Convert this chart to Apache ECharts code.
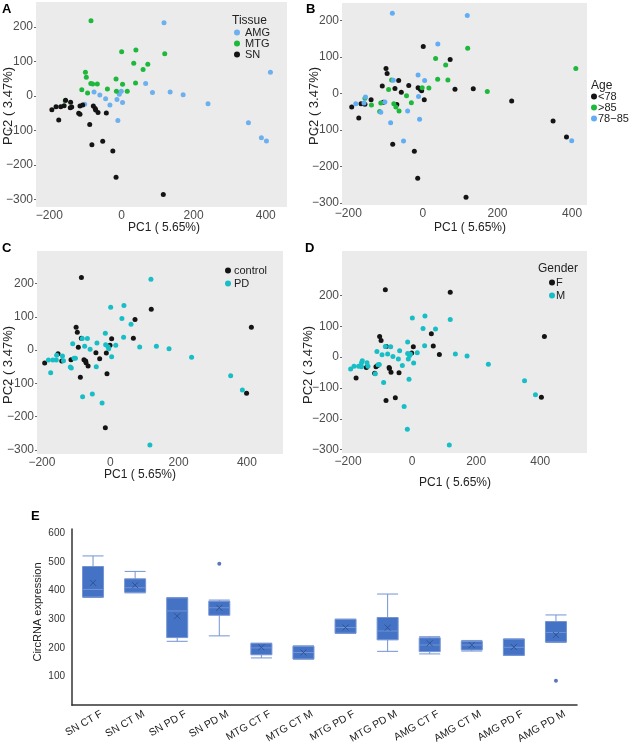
<!DOCTYPE html>
<html><head><meta charset="utf-8">
<script src="https://cdn.jsdelivr.net/npm/echarts@6/dist/echarts.min.js"></script>
<style>html,body{margin:0;padding:0;background:#fff}#c{width:630px;height:746px}</style>
</head><body><div id="c"></div>
<script>
// ---------- Panel A: PCA by tissue ----------
const tissueAMG = [[118,212],[413,69],[67,36],[-76,12],[-60,3],[-44,-8],[-32,-26],[-12.5,-10],[-6,5],[-0.5,14],[3,-19],[86,10],[135,12],[171,4],[240,-22],[352,-77],[388,-121],[402,-130],[-102,-24],[-10,-71]];
const tissueMTG = [[-84.5,218],[0.5,128],[40,133],[120,122],[34,95],[73,92],[60,77],[-100,69],[-97.5,54],[-85,36],[-80,35],[-67,35],[-15,49],[3,34],[39,38],[-39,20],[-110,18],[-94,9],[-14,14],[16,14],[-156,-14]];
const tissueSN = [[-193,-40],[-181.5,-31],[-168.5,-31],[-159,-28],[-155,-12],[-174,-69],[-141,-18],[-142,-34],[-138,-32],[-115,-29],[-107.5,-26],[-118.6,-50],[-115,-53],[-78,-29],[-73,-36],[-71.5,-40.5],[-65,-48],[-42,-49],[-88,-82],[-52,-131],[-82,-141],[-24,-159],[-15,-235],[116,-285]];
// ---------- Panel B: PCA by age ----------
const ageUnder78 = [[0.9,128.6],[73,93],[-99,69],[-96,55],[-65,36],[-109,21],[-75,14],[-38,22],[-58,4],[-13,16],[-7,12],[-3.4,8],[3.6,-17],[86,12],[135,13],[-139,-17],[-191,-37],[-166,-28],[-155.5,-29],[-106,-24],[-70,-30],[-172,-67],[-81,-139],[-23,-158],[-14,-232],[115.6,-284],[238,-20],[349,-75],[385,-119]];
const ageOver85 = [[120,124],[34,96],[61,78],[-84,37.5],[39.5,39],[67,37],[16,15.5],[-2,16],[-92,11],[-44,-6],[-31,-25],[-155.5,-13],[-138,-31],[-113,-26],[-78,-27.5],[-72.5,-36.5],[-64,-47.5],[-116,-49],[172.6,5.4],[410,69]];
const age78to85 = [[40,136],[-13,51],[4.6,36],[-79.6,36.5],[-11.7,-8],[-154,-9],[-180,-28],[-158,-26],[-102,-23],[-113,-51],[-41,-47.5],[-9,-70],[-86.6,-80],[-52,-129.5],[-82,220],[119,213.5],[399,-129]];
// ---------- Panel C: PCA by status ----------
const statusControl = [[120,123],[72.4,92],[-100,69],[-96.5,54],[-84.7,36],[4,34],[67.6,36],[-0.8,15],[-93.5,9],[-42,-7.5],[-11.6,-8.4],[-31,-25.5],[-153,-10.5],[-192,-38.5],[-142,-32.5],[-115,-28.5],[-77,-28.5],[-72,-32.5],[-71,-37.5],[-65,-47.5],[-9.6,-70.6],[-87.6,-81.5],[-14.5,-233],[413,69],[399,-129.5],[-84.5,218]];
const statusPD = [[1.2,129],[40,134],[34,95],[60.7,78],[-14.5,51],[39,39],[-82,35],[-67,35],[-110,19.5],[-39,21.6],[-75,11.6],[-59,2.6],[-13.5,16.5],[-6.6,10.5],[-4.6,4.5],[16,14.6],[4,-19.5],[86,9.6],[135,11.6],[172,4.5],[-157,-15.5],[-181,-29.5],[-168,-29.5],[-158,-29.5],[-140,-17.5],[-137,-31.5],[-106,-24.5],[-102,-24.5],[-117,-50.5],[-114,-53.5],[-41,-49.5],[-174.5,-67.6],[-81,-140],[-52.5,-132],[-24,-159],[119,213],[238,-21],[352.4,-76.6],[386.7,-119.6],[116,-285]];
// ---------- Panel D: PCA by gender ----------
const genderF = [[-101.5,67],[-97,54],[-80.6,34.5],[3.7,33.5],[-1.5,13],[60,75.5],[66,35.7],[85,8.5],[-113,-31],[-108,-27],[-143,-33.5],[-175,-68],[-117,-52],[-72,-33.5],[-71,-37],[-66,-49.5],[-41,-50.7],[-52.5,-131.7],[-81.6,-141],[-83.7,218],[119,210.5],[413,67],[403.6,-130.6]];
const genderM = [[0.6,127],[40,133],[119,122],[34,93],[73,90.7],[-14,48.6],[39,36.7],[-83.7,34.5],[-67,33.5],[-110,18],[-39,20.5],[-94,7.5],[-76.5,9.8],[-60,2],[-43,-6.5],[-30.6,-27],[-14,11.8],[-7.8,5.3],[-5.6,9.8],[4.7,-19.5],[16,14],[-12,-6.5],[135,9.8],[171.5,3.2],[-155.6,-12],[-158,-18],[-192,-39],[-181.5,-30],[-167,-30],[-158,-31],[-141,-18],[-138,-30],[-106.5,-25],[-102.5,-24],[-115,-54],[-89,-82],[-9.7,-72],[-25,-160],[-15,-234],[116,-285],[238,-23],[351,-77],[385,-122]];
// ---------- Panel E: box plot ----------
const boxCats = ['SN CT F','SN CT M','SN PD F','SN PD M','MTG CT F','MTG CT M','MTG PD F','MTG PD M','AMG CT F','AMG CT M','AMG PD F','AMG PD M'];
const boxMin  = [376,392,223,242,165,161,251,188,179,189,174,219];
const boxQ1   = [378,394,236,314,176,161,251,228,187,193,174,221];
const boxMed  = [404,410,329,340,200,184,271,259,210,210,202,254];
const boxQ3   = [484,441,375,363,216,206,300,306,235,223,231,292];
const boxMax  = [521,467,375,367,216,207,300,388,239,226,231,315];
const boxMean = [427,419,311,340,202,184,271,271,216,210,203,245];
const outlierCats = ['SN PD M','AMG PD M'];
const outlierVals = [494,85];
const pcTicksX = [-200,0,200,400];
const pcTicksY = [-300,-200,-100,0,100,200];
const boxTicksY = [100,200,300,400,500,600];

const FONT = '"Liberation Sans", Arial, sans-serif';
const minus = v => v < 0 ? '\u2212' + Math.abs(v) : String(v);
const C_BLACK = '#141414', C_GREEN = '#1DB83C', C_BLUE = '#6DB0EE', C_CYAN = '#17BEC6';

const chart = echarts.init(document.getElementById('c'), null, {renderer:'canvas'});

const grids = [
  {left:36, top:2, width:251, height:205},
  {left:342, top:3, width:245, height:202},
  {left:37, top:251, width:246, height:203},
  {left:342, top:251, width:245, height:202},
  {left:72, top:529, width:505, height:179}
].map(g => Object.assign({show: true, backgroundColor:'#EBEBEB', borderWidth:0}, g));
grids[4].backgroundColor = 'transparent';

const ranges = [
  {x:[-237,459], y:[-321,272]},
  {x:[-217,440], y:[-305,248]},
  {x:[-214.5,505.6], y:[-312,298]},
  {x:[-219,546], y:[-311,344]}
];

const xAxes = [], yAxes = [];
ranges.forEach((r,i) => {
  xAxes.push({gridIndex:i, type:'value', min:r.x[0], max:r.x[1], position:'bottom',
    axisLine:{show:false, onZero:false},
    axisTick:{show:false},
    axisLabel:{customValues:pcTicksX, formatter:minus, color:'#4D4D4D', fontSize:12, fontFamily:FONT, margin:3},
    splitLine:{show:false}});
  yAxes.push({gridIndex:i, type:'value', min:r.y[0], max:r.y[1], position:'left',
    axisLine:{show:false, onZero:false},
    axisTick:{show:true, length:2, lineStyle:{color:'#666'}, customValues:pcTicksY},
    axisLabel:{customValues:pcTicksY, formatter:minus, color:'#4D4D4D', fontSize:12, fontFamily:FONT, margin:3},
    splitLine:{show:false}});
});
xAxes.push({gridIndex:4, type:'category', data:boxCats, boundaryGap:true,
  axisLine:{show:true, onZero:false, lineStyle:{color:'#333', width:1.5}},
  axisTick:{show:false},
  axisLabel:{rotate:30, fontSize:10.5, color:'#1a1a1a', fontFamily:FONT, margin:13, interval:0, padding:[0,-10,0,0]}});
yAxes.push({gridIndex:4, type:'value', min:0, max:615,
  axisLine:{show:true, onZero:false, lineStyle:{color:'#333', width:1.5}},
  axisTick:{show:false},
  axisLabel:{customValues:boxTicksY, fontSize:10, color:'#333', fontFamily:FONT, margin:7},
  splitLine:{show:false}});

const sc = (name, data, idx, color) => ({type:'scatter', name, data, xAxisIndex:idx, yAxisIndex:idx,
  symbolSize:5, itemStyle:{color, opacity:1}, silent:true});

const series = [
  sc('AMG', tissueAMG, 0, C_BLUE),
  sc('MTG', tissueMTG, 0, C_GREEN),
  sc('SN', tissueSN, 0, C_BLACK),
  sc('<78', ageUnder78, 1, C_BLACK),
  sc('>85', ageOver85, 1, C_GREEN),
  sc('78\u221285', age78to85, 1, '#62AEF4'),
  sc('control', statusControl, 2, C_BLACK),
  sc('PD', statusPD, 2, C_CYAN),
  sc('F', genderF, 3, C_BLACK),
  sc('M', genderM, 3, C_CYAN),
  {type:'boxplot', xAxisIndex:4, yAxisIndex:4, boxWidth:[21,21],
    data: boxCats.map((c,i)=>[boxMin[i],boxQ1[i],boxMed[i],boxQ3[i],boxMax[i]]),
    itemStyle:{color:'#4472C4', borderColor:'#7393D3', borderWidth:1}, silent:true},
  {type:'scatter', xAxisIndex:4, yAxisIndex:4, symbol:'path://M0,0L10,10M10,0L0,10', symbolSize:6,
    data: boxCats.map((c,i)=>[i, boxMean[i]]),
    itemStyle:{color:'none', borderColor:'#2B4C8C', borderWidth:1}, silent:true},
  {type:'scatter', xAxisIndex:4, yAxisIndex:4, symbolSize:4,
    data: outlierCats.map((c,i)=>[boxCats.indexOf(c), outlierVals[i]]),
    itemStyle:{color:'#2F55A8'}, silent:true}
];

const legBase = {orient:'vertical', icon:'circle', itemWidth:6, itemHeight:6, itemGap:0, selectedMode:false, padding:0};
const ts = (pl) => ({fontSize:11, color:'#222', fontFamily:FONT, padding:[0,0,0,pl]});
const legends = [
  Object.assign({}, legBase, {left:234, top:27, textStyle:ts(0), data:['AMG','MTG','SN']}),
  Object.assign({}, legBase, {left:591, top:91, textStyle:ts(-4), data:['<78','>85','78\u221285']}),
  Object.assign({}, legBase, {left:225, top:265, itemGap:2, textStyle:ts(-2), data:['control','PD']}),
  Object.assign({}, legBase, {left:549, top:277, itemGap:2, textStyle:ts(-4), data:['F','M']})
];

const txt = (x,y,text,opt) => ({type:'text', x, y, silent:true,
  style:Object.assign({text, fill:'#222', font:'12px '+FONT, textAlign:'center', textVerticalAlign:'middle'}, opt||{})});
const rtxt = (x,y,text,size) => ({type:'text', x, y, rotation:Math.PI/2, silent:true,
  style:{text, fill:'#222', font:(size||12)+'px '+FONT, textAlign:'center', textVerticalAlign:'middle'}});
const bold = (x,y,t) => txt(x,y,t,{font:'bold 13px '+FONT, fill:'#000', textAlign:'left'});

const graphic = [
  bold(2,9,'A'), bold(306,9,'B'), bold(2,248,'C'), bold(305,248,'D'), bold(31,516,'E'),
  txt(164,228,'PC1 ( 5.65%)'), txt(470,228,'PC1 ( 5.65%)'), txt(140,475,'PC1 ( 5.65%)'), txt(455,483,'PC1 ( 5.65%)'),
  rtxt(8,106,'PC2 ( 3.47%)',13), rtxt(314,106,'PC2 ( 3.47%)',13), rtxt(8,365,'PC2 ( 3.47%)',13), rtxt(308,365,'PC2 ( 3.47%)',13),
  txt(232,21,'Tissue',{textAlign:'left'}),
  txt(591,86,'Age',{textAlign:'left'}),
  txt(538,269,'Gender',{textAlign:'left'}),
  rtxt(38,612,'CircRNA expression',11)
];

chart.setOption({animation:false, backgroundColor:'#fff', textStyle:{fontFamily:FONT},
  grid:grids, xAxis:xAxes, yAxis:yAxes, series, legend:legends, graphic});
</script></body></html>
